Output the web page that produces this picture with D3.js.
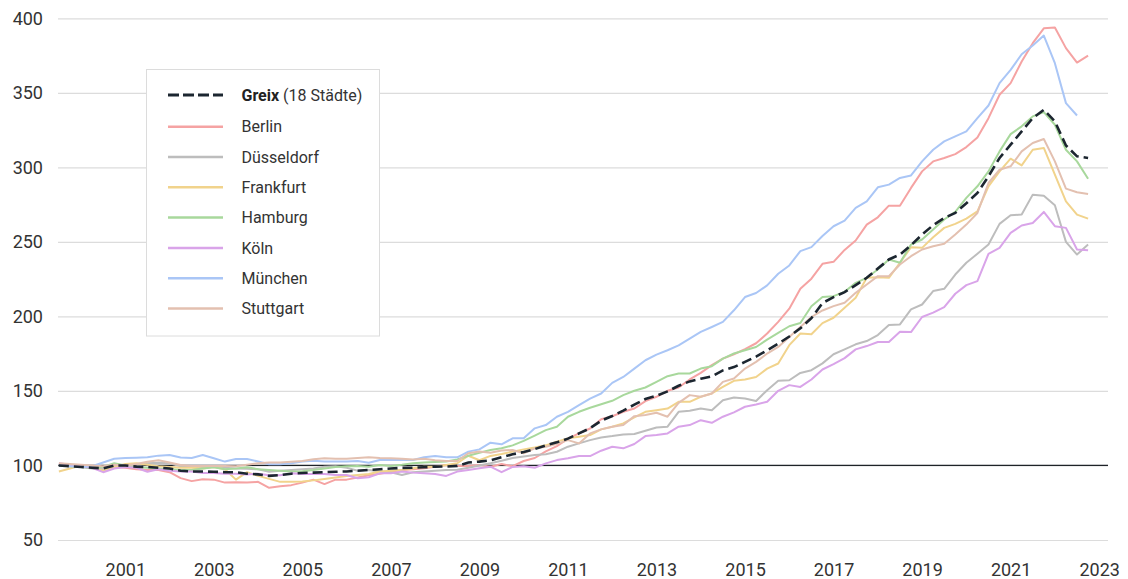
<!DOCTYPE html>
<html><head><meta charset="utf-8">
<script src="https://cdn.jsdelivr.net/npm/d3@7"></script>
<style>
body{margin:0;background:#fff}
svg{display:block}
text{font-family:Roboto,"Noto Sans",sans-serif}
</style>
</head><body>
<svg id="chart" width="1128" height="579"></svg>
<script>
// Quarterly index values (2000 Q1 = first point)
const firstYear = 2000;
const greix = [100,99.5,99,98.5,98,100,100,99.2,99,98.5,
98,96.5,96,96,95.8,95.5,95.5,94.5,94,93,
93.5,94.5,95,95.2,95.5,95.8,96,96.5,97,97.5,
98,98.4,98.5,98.8,99.2,99.3,99.7,102,102.6,103.5,
105.5,107.5,109,111,113.5,115.5,118,121.5,125,130,
133.2,136.8,140.8,144.6,146.8,149.7,153.5,156.4,158.2,159.8,
163.8,166,169.5,173,177.3,181.7,186.5,192,198.8,209,
212.9,216.3,221,225.9,232.1,238.2,241.5,247.8,254.9,261.2,
266.1,269.4,275.9,282.8,294,306.3,315.2,324.1,333,338.6,
330.8,314.7,307.4,306.3];
const berlin = [100,99.5,99.5,99,98.5,99,98.5,97.5,97,97,
95.5,91.5,89.5,90.8,90.5,88.5,88.8,88.5,89,85,
86,86.8,88.5,90.5,87.5,90.5,90.5,92,93.5,94.5,
95.8,97,97.4,98.1,99.2,100.3,99.7,99.7,100.3,99.2,
101,99.5,103,105,109.5,113,118,121.5,124.8,131,
133,136,138.2,143.2,146.1,150.1,152.3,157.7,162.1,167.3,
171.7,174.6,178,182,188.5,196.3,205.2,218.6,225.3,235.3,
236.6,244.6,250.9,261.6,266.5,274.3,274.3,286.2,297.3,304,
306.3,308.9,313.6,320.1,333,348.7,356.5,371,383.3,393.3,
393.8,380,370.3,375];
const duesseldorf = [100,99.5,99,98,97.5,99.5,100,99.5,101.5,101.8,
101.5,99.5,99,99.2,99,98.5,98,97.8,97.4,95.8,
96.5,97,97.5,98,99.2,99.5,98.5,96.5,97,96,
95.5,93.6,95.5,96,96.5,97,97.2,98.5,100,101.5,
103.2,105,106,107,107.5,109.2,112.6,114.8,117,118.8,
119.7,120.8,121.1,123.3,125.5,126,136,136.7,138.2,137.1,
143.8,145.6,144.9,143.3,150.5,156.8,157.2,162.1,163.9,168.5,
174.6,177.9,181.3,183.5,187.5,194.2,194.6,204.7,208,217,
218.5,228.1,236,242,248.2,262.1,267.9,268.3,281.7,281,
274.6,250,241.5,248.2];
const frankfurt = [96,98,99.9,98.5,96.5,99,101,101.5,100.5,99.5,
99,98.5,98.5,98,99,97.5,90.5,95.5,93,91,
89,89,89.2,90,91,92,93,93.6,94.3,95.9,
96.5,97,98.1,99.2,99.2,100.3,101.5,106.5,103.5,106.4,
107.7,109.3,110.8,112,113.5,116,118.2,119.3,120.4,124.2,
126,128.2,132.2,136,137.1,138.2,142.7,142.7,146.1,148.3,
152.7,156.8,157.7,159.4,165,168.4,180.7,188.5,188,195.5,
199.1,205.8,212.5,225.9,226.3,225.9,236,246.4,246,253.1,
259.4,262.1,265.6,270.5,287.3,297.3,305.8,301.3,311.8,313,
295.1,277.2,268.3,265.6];
const hamburg = [100,99.5,99,98.5,99,101.5,100,99,98.5,98,
97.5,97,97,98,98.8,97.5,98,98.8,97.5,97,
96.5,96,96.2,97,98,99,99.5,99.7,99.2,100.3,
99.7,100.5,101.5,102,102.3,102.6,104,106.5,108.5,110.4,
111.5,113.5,116.5,120,123.7,126,132.7,136,138.7,141.1,
143.4,147.2,150.1,152.3,156.1,159.9,161.7,161.7,165,166.6,
171.7,175.1,177.3,179.5,184.4,188.9,193.4,195.6,206.8,213,
213.6,216.5,222.5,225.9,231.5,238.2,236,248.2,251.6,258.3,
265,270.1,279.5,287.3,297.3,310.7,322.3,327.5,334.2,337.1,
328.6,311.8,304,292.4];
const koeln = [101.5,100.5,99.5,98.5,95.5,98,99,98.5,95.8,97.5,
96.5,96,96,95,95,94.5,94.5,94,94.5,93.5,
93.5,94.7,94.3,94.3,94.3,93.6,93.6,91.4,92.1,94.7,
94.7,95.9,95.2,94.7,94.3,93,95.9,97,98.1,99.2,
95.5,99,99.5,98.5,101.4,103.6,104.8,106.3,106.3,109.9,
112.6,111.5,114.4,119.7,120.4,121.5,126,127.1,130.4,128.6,
132.7,135.6,139.4,140.9,142.7,150.1,153.9,152.7,157.7,164.4,
168,172,177.9,180.1,182.8,182.8,189.7,189.5,199.6,202.5,
206.3,215.2,221,223.7,242,246,256,261,262.7,270.1,
260.5,259.4,244.9,244.4];
const muenchen = [100,99.5,99,99.5,102,104.5,105,105.2,105.5,106.6,
107,105.3,105,107,104.8,102.6,104.4,104.4,102.6,100.8,
100.8,101.5,102.6,103.2,102.6,102.6,102.6,103,101.8,103.7,
103.7,103.7,103.7,105.5,106.4,105.5,105.5,109.3,110.8,115.3,
114.2,118.2,118.2,124.9,127.1,132.7,136,140.5,144.9,148.3,
155.4,159.4,165,170.6,174.4,177.3,180.6,185.1,189.6,192.9,
196.3,204.1,213,215.7,220.8,228.6,234.2,243.8,246.5,254,
260.5,264.3,272.8,277.2,286.6,288.4,292.9,294.6,304,311.8,
317.4,320.8,324.1,333,341.5,356.5,365.4,375.9,381.7,388.4,
369.9,343.1,334.8];
const stuttgart = [101.5,101,100.5,100,99.5,100.5,100,101,102.5,103.5,
102,100.3,99.7,99.7,99.7,99.7,99.5,100.5,101.5,102,
102,102.5,103,104.2,104.8,104.5,104.5,105,105.5,105,
104.8,104.5,104,104.5,103.5,103,103,108.2,109.3,108.6,
110,110.4,108.2,111.5,112.5,114.5,117,114.8,121.5,124.2,
126,127.1,133.1,133.8,135.4,132.7,142,147.2,146.1,148.3,
156.1,158.3,165,169.5,175.1,179.5,186.2,192.9,199.6,204,
206.9,209.2,215.8,221.4,227,227,234.8,240.4,244.9,247.1,
248.7,254.9,261.6,269.4,289.5,298.4,300.7,310.7,316.3,319,
304,285.7,283.3,282.1];

const cityNames = ["Berlin","Düsseldorf","Frankfurt","Hamburg","Köln","München","Stuttgart"];
const cityValues = [berlin,duesseldorf,frankfurt,hamburg,koeln,muenchen,stuttgart];
const cityColors = ["#f5a3a3","#bdbdbd","#f1d38c","#a8d89c","#d9a4e9","#aac6f6","#e3c0b0"];
const yTicks = [50,100,150,200,250,300,350,400];
const xTickYears = [2001,2003,2005,2007,2009,2011,2013,2015,2017,2019,2021,2023];

const svg = d3.select("#chart");
const x = d3.scaleLinear().domain([1999.98, 2023.70]).range([58, 1108]);
const y = d3.scaleLinear().domain([50, 400]).range([540, 18.3]);
const tq = i => firstYear + i / 4;

// grid
const yAxis = d3.axisLeft(y).tickValues(yTicks).tickSize(-1050).tickPadding(15).tickFormat(d3.format("d"));
const gy = svg.append("g").attr("transform","translate(58,0)").call(yAxis);
gy.select(".domain").remove();
gy.selectAll(".tick line").attr("stroke","#dcdcdc").attr("stroke-width",1.2);
gy.selectAll(".tick text").attr("fill","#333").attr("font-size","18px").attr("x",-15);

const xAxis = d3.axisBottom(x).tickValues(xTickYears.map(d => d + 0.5)).tickSize(0).tickPadding(0)
  .tickFormat(d => String(Math.floor(d)));
const gx = svg.append("g").attr("transform","translate(0,561)").call(xAxis);
gx.select(".domain").remove();
gx.selectAll(".tick text").attr("fill","#333").attr("font-size","18px").attr("dy","0.1em").attr("y",0).attr("dominant-baseline","hanging");

// baseline at 100
svg.append("line").attr("x1",58).attr("x2",1108).attr("y1",y(100)).attr("y2",y(100))
  .attr("stroke","#1e2328").attr("stroke-width",1.2);

const line = d3.line().x((d,i) => x(tq(i))).y(d => y(d));

cityValues.forEach((vals, k) => {
  svg.append("path").datum(vals).attr("d", line).attr("fill","none")
    .attr("stroke", cityColors[k]).attr("stroke-width", 2).attr("stroke-linejoin","round");
});
svg.append("path").datum(greix).attr("d", line).attr("fill","none")
  .attr("stroke","#1c2630").attr("stroke-width",2.6).attr("stroke-dasharray","10,5");

// legend
const lg = svg.append("g");
lg.append("rect").attr("x",146.5).attr("y",69.5).attr("width",233).attr("height",266.5)
  .attr("fill","#fff").attr("stroke","#dcdcdc").attr("stroke-width",1);
const rowY = k => 95 + (k === 0 ? 0 : 31.7 + (k - 1) * 30.3);
lg.append("line").attr("x1",168).attr("x2",223).attr("y1",rowY(0)).attr("y2",rowY(0))
  .attr("stroke","#1c2630").attr("stroke-width",3).attr("stroke-dasharray","11,4");
const gt = lg.append("text").attr("x",241.5).attr("y",rowY(0)+5.6).attr("font-size","16px").attr("fill","#222");
gt.append("tspan").attr("font-weight","bold").text("Greix");
gt.append("tspan").attr("fill","#333").text(" (18 Städte)");
cityNames.forEach((n, k) => {
  const yy = rowY(k + 1);
  lg.append("line").attr("x1",168).attr("x2",223).attr("y1",yy).attr("y2",yy)
    .attr("stroke", cityColors[k]).attr("stroke-width",2.5);
  lg.append("text").attr("x",241.5).attr("y",yy+5.6).attr("font-size","16px").attr("fill","#333").text(n);
});
</script>
</body></html>
